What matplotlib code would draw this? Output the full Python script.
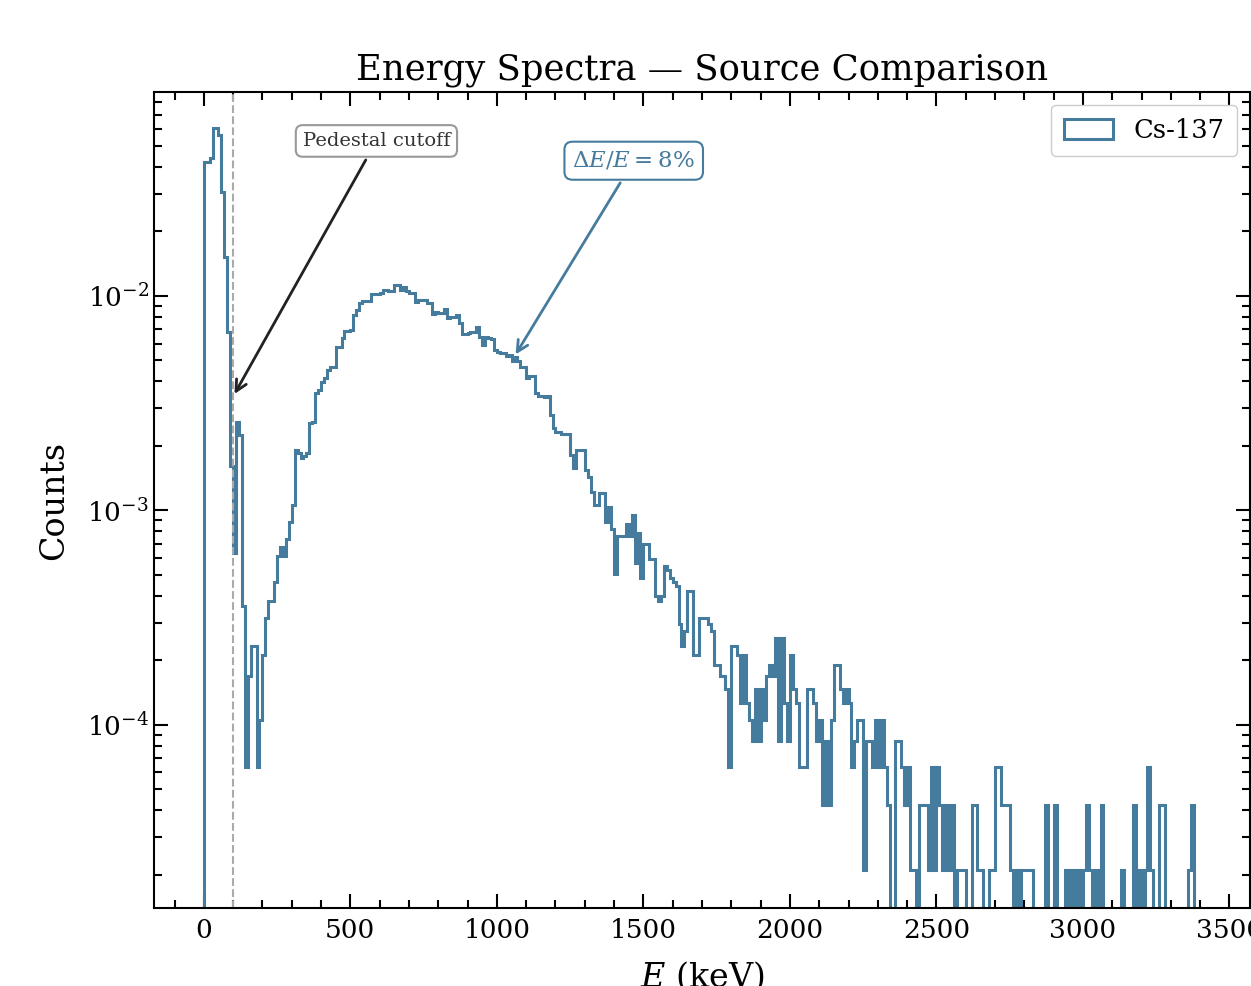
import numpy as np
import matplotlib
matplotlib.use("Agg")
import matplotlib.pyplot as plt
from matplotlib.ticker import MultipleLocator

plt.rcParams["font.family"] = ["DejaVu Serif"]
plt.rcParams["mathtext.fontset"] = "dejavuserif"

# 10 keV bins from 0 to 3400 keV
BIN_WIDTH = 10
E_MAX = 3400
N_EVENTS = 47400      # counts are normalised to the total number of events

# counts per bin (bin 0 starts at 0 keV)
COUNTS = [
    2005, 2005, 2086, 2877, 2877, 2672, 1453, 723, 323, 76,          # 0-99
    30, 123, 107, 17, 3, 8, 11, 11, 3, 5,                            # 100-199
    10, 15, 18, 18, 22, 29, 32, 29, 35, 42,                          # 200-299
    50, 91, 88, 83, 85, 88, 121, 123, 167, 173,                      # 300-399
    189, 196, 214, 222, 222, 275, 275, 301, 327, 327,                # 400-499
    330, 386, 406, 440, 448, 448, 450, 482, 482, 485,                # 500-599
    490, 505, 505, 500, 500, 533, 533, 505, 520, 500,                # 600-699
    490, 488, 443, 456, 456, 456, 440, 440, 392, 400,                # 700-799
    396, 396, 410, 372, 380, 380, 386, 354, 316, 316,                # 800-899
    320, 323, 323, 340, 304, 280, 305, 301, 300, 265,                # 900-999
    260, 258, 258, 250, 252, 235, 245, 236, 222, 222,                # 1000-1099
    196, 200, 200, 167, 162, 162, 160, 162, 132, 115,                # 1100-1199
    110, 110, 108, 108, 108, 86, 75, 91, 91, 91,                     # 1200-1299
    73, 68, 58, 50, 50, 57, 57, 42, 49, 39,                          # 1300-1399
    24, 36, 36, 36, 41, 36, 45, 27, 37, 23,                          # 1400-1499
    33, 33, 28, 28, 19, 18, 19, 26, 25, 23,                          # 1500-1599
    22, 21, 14, 11, 13, 20, 20, 10, 10, 15,                          # 1600-1699
    15, 15, 14, 13, 9, 9, 8, 8, 7, 3,                                # 1700-1799
    11, 11, 10, 6, 10, 6, 5, 4, 7, 4,                                # 1800-1899
    7, 5, 8, 9, 8, 12, 4, 12, 6, 4,                                  # 1900-1999
    10, 7, 6, 3, 3, 3, 7, 7, 6, 4,                                   # 2000-2099
    5, 2, 4, 2, 5, 9, 9, 7, 6, 7,                                    # 2100-2199
    6, 3, 4, 5, 5, 1, 4, 4, 3, 5,                                    # 2200-2299
    3, 5, 3, 2, 0, 0, 4, 4, 3, 2,                                    # 2300-2399
    3, 1, 1, 0, 2, 2, 2, 1, 3, 1,                                    # 2400-2499
    3, 2, 1, 2, 1, 2, 0, 1, 1, 1,                                    # 2500-2599
    0, 0, 2, 2, 1, 1, 0, 0, 1, 1,                                    # 2600-2699
    3, 3, 2, 2, 2, 1, 0, 1, 0, 1,                                    # 2700-2799
    1, 1, 1, 0, 0, 0, 0, 2, 0, 0,                                    # 2800-2899
    2, 0, 0, 0, 1, 0, 1, 0, 1, 0,                                    # 2900-2999
    1, 2, 1, 0, 1, 0, 2, 0, 0, 0,                                    # 3000-3099
    0, 0, 0, 1, 0, 0, 0, 2, 0, 1,                                    # 3100-3199
    0, 1, 3, 1, 0, 0, 2, 2, 0, 0,                                    # 3200-3299
    0, 0, 0, 0, 0, 0, 1, 2, 0, 0,                                    # 3300-3399
]

SOURCE = "Cs-137"
PEDESTAL_CUT = 100     # keV
RESOLUTION = 8         # percent
COLOR = "#457b9d"

edges = np.arange(0, E_MAX + BIN_WIDTH, BIN_WIDTH)
frac = np.array(COUNTS) / N_EVENTS

fig = plt.figure(figsize=(12.51, 9.86), dpi=100)
ax = fig.add_axes([0.1231, 0.0791, 0.8761, 0.8276])

ax.hist(edges[:-1], bins=edges, weights=frac, histtype="step",
        color=COLOR, linewidth=2.2, label=SOURCE)
ax.set_yscale("log")
ax.set_xlim(-170, 3570)
ax.set_ylim(1.40e-5, 0.0893)

ax.axvline(PEDESTAL_CUT, ls="--", color="#aaaaaa", lw=1.5)

ax.annotate("Pedestal cutoff", xy=(PEDESTAL_CUT, 3.4e-3), xytext=(589, 0.0528),
            ha="center", va="center", fontsize=14, color="#333333",
            bbox=dict(boxstyle="round,pad=0.35", fc="white", ec="#999999", lw=1.5),
            arrowprops=dict(arrowstyle="->", color="#222222", lw=2,
                            mutation_scale=20))
ax.annotate(rf"$\Delta E/E = {RESOLUTION}\%$", xy=(1059, 5.2e-3),
            xytext=(1467, 0.0427), ha="center", va="center", fontsize=16.5,
            color=COLOR,
            bbox=dict(boxstyle="round,pad=0.35", fc="white", ec=COLOR, lw=1.5),
            arrowprops=dict(arrowstyle="->", color=COLOR, lw=2,
                            mutation_scale=20))

ax.xaxis.set_major_locator(MultipleLocator(500))
ax.xaxis.set_minor_locator(MultipleLocator(100))
ax.tick_params(which="both", direction="in", top=True, right=True,
               labelsize=19, width=1.5)
ax.tick_params(which="major", length=10)
ax.tick_params(which="minor", length=6)
ax.tick_params(axis="x", which="major", pad=7)
for s in ax.spines.values():
    s.set_linewidth(1.5)

ax.set_xlabel(r"$E$ (keV)", fontsize=24, labelpad=12)
ax.set_ylabel("Counts", fontsize=24, labelpad=12)
ax.set_title("Energy Spectra — Source Comparison", fontsize=25.5, pad=9)
ax.legend(loc="upper right", fontsize=18.5, framealpha=1, handlelength=1.9,
          handleheight=0.8, borderpad=0.5)

fig.savefig("out.png", dpi=100)
